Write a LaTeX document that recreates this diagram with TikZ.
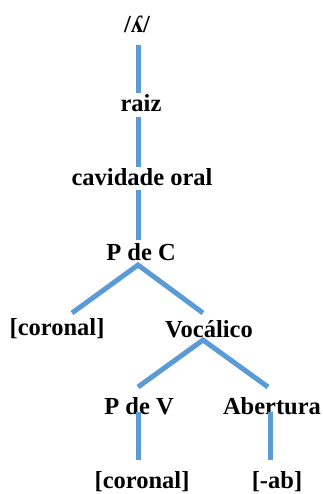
\documentclass[tikz,border=0pt]{standalone}
\usepackage{fontspec}
\setmainfont{Liberation Serif}
\begin{document}
\begin{tikzpicture}[x=1pt,y=-1pt,
  lbl/.style={font=\bfseries\fontsize{24.5}{28}\selectfont, inner sep=0pt},
  branch/.style={draw={rgb,255:red,91;green,155;blue,213}, line width=5pt}]
\useasboundingbox (0,0) rectangle (323,494);
\node[lbl] (root) at (137,24) {/ʎ/};
\node[lbl] (raiz) at (141,103) {raiz};
\node[lbl] (cav) at (142,177) {cavidade oral};
\node[lbl] (pdc) at (141,252) {P de C};
\node[lbl] (cor1) at (57,329) {[coronal]};
\node[lbl] (voc) at (209,329) {Vocálico};
\node[lbl] (pdv) at (139,406) {P de V};
\node[lbl] (abe) at (272,406) {Abertura};
\node[lbl] (cor2) at (142,482) {[coronal]};
\node[lbl] (ab) at (277,482) {[-ab]};
% connector end points
\coordinate (a1) at (138,45); \coordinate (a2) at (138,93);
\coordinate (b1) at (138,117); \coordinate (b2) at (138,167);
\coordinate (c1) at (138,190); \coordinate (c2) at (138,240);
\coordinate (d0) at (138,265); \coordinate (dl) at (72,313); \coordinate (dr) at (203,313);
\coordinate (e0) at (203,340); \coordinate (el) at (138,387); \coordinate (er) at (268,387);
\coordinate (f1) at (138,412); \coordinate (f2) at (138,460);
\coordinate (g1) at (270,412); \coordinate (g2) at (270,460);
\draw[branch] (a1) -- (a2);
\draw[branch] (b1) -- (b2);
\draw[branch] (c1) -- (c2);
\draw[branch] (dl) -- (d0) -- (dr);
\draw[branch] (el) -- (e0) -- (er);
\draw[branch] (f1) -- (f2);
\draw[branch] (g1) -- (g2);
\end{tikzpicture}
\end{document}
